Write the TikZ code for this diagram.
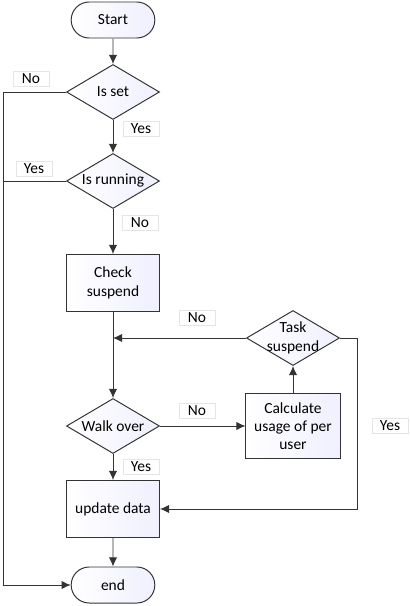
\documentclass[tikz,border=0pt]{standalone}
\usepackage{fontspec}
\setmainfont{Carlito}
\usetikzlibrary{positioning, arrows.meta, shapes}

\tikzset{
	base/.style={draw=black!80, line width=0.7pt, left color=white, right color=blue!6, text centered, font=\fontsize{11}{13}\selectfont},
	terminal/.style={base, rounded rectangle, minimum width=2.325cm, minimum height=0.9cm},
	decision/.style={base, diamond, aspect=1.69, inner sep=0pt, minimum width=2.325cm, minimum height=1.375cm},
	process/.style={base, rectangle, align=center, minimum width=2.325cm, minimum height=1.425cm},
	tag/.style={draw=black!10, fill=white, font=\fontsize{11}{13}\selectfont, minimum width=0.9cm, minimum height=0.38cm, inner sep=0pt},
	link/.style={-{Latex[length=6.5pt, width=6pt]}, draw=black!80, line width=0.7pt}
}

\begin{document}
\begin{tikzpicture}[x=0.025cm, y=-0.025cm]
		\useasboundingbox (0,0) rectangle (409,606);
		
		%Blocchi
		\node(Start) at (113,20) [terminal]{Start};
		\node(IsSet) at (113,92) [decision]{Is set};
		\node(IsRunning) at (113,181) [decision]{Is running};
		\node(CheckSuspend) at (113,283) [process]{Check\\suspend};
		\node(TaskSuspend) at (293,338) [decision, label={[align=center, font=\fontsize{11}{13}\selectfont]center:Task\\suspend}]{};
		\node(WalkOver) at (113,426) [decision]{Walk over};
		\node(Calculate) at (293,426) [process, minimum width=2.35cm, minimum height=1.625cm]{Calculate\\usage of per\\user};
		\node(UpdateData) at (113,509) [process]{update data};
		\node(End) at (113,585) [terminal]{end};
		
		%Punti di appoggio
		\coordinate (Merge) at (113,338);
		\coordinate (LeftSide) at (3,92);
		\coordinate (RightSide) at (357,338);
		
		%Collegamenti
		\draw[link] (Start) -- (IsSet);
		\draw[link] (IsSet) -- (IsRunning);
		\draw[link] (IsRunning) -- (CheckSuspend);
		\draw[link] (CheckSuspend) -- (WalkOver);
		\draw[link] (WalkOver) -- (Calculate);
		\draw[link] (Calculate) -- (TaskSuspend);
		\draw[link] (TaskSuspend.west) -- (Merge);
		\draw[link] (TaskSuspend.east) -- (RightSide) |- (UpdateData.east);
		\draw[link] (WalkOver) -- (UpdateData);
		\draw[link] (UpdateData) -- (End);
		\draw[link] (IsSet.west) -- (LeftSide) |- (End.west);
		\draw[link, -] (IsRunning.west) -- (LeftSide |- IsRunning.west);
		
		%Etichette
		\node(NoSet) at (31,79) [tag]{No};
		\node(YesSet) at (141,129) [tag]{Yes};
		\node(YesRunning) at (34,169) [tag]{Yes};
		\node(NoRunning) at (140,223) [tag]{No};
		\node(NoTask) at (197,318) [tag]{No};
		\node(NoWalk) at (197,411) [tag]{No};
		\node(YesTask) at (390,426) [tag]{Yes};
		\node(YesWalk) at (141,467) [tag]{Yes};
		
\end{tikzpicture}
\end{document}
